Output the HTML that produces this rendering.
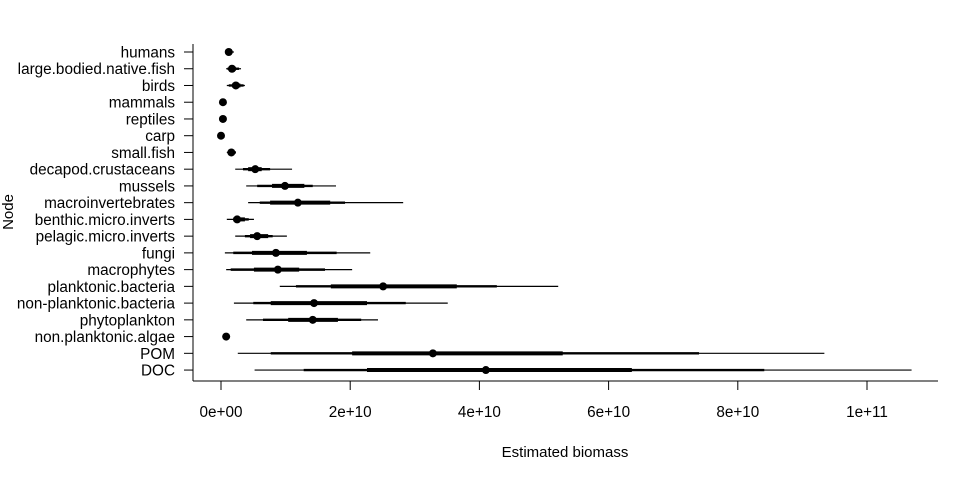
<!DOCTYPE html>
<html><head><meta charset="utf-8"><style>
body{margin:0;background:#fff;}
svg{display:block;font-family:"Liberation Sans",Arial,sans-serif;}
</style></head><body>
<svg id="chart" width="960" height="480" viewBox="0 0 960 480">
<g id="axes"></g>
<g id="marks"></g>
<text x="565" y="457" font-size="15" text-anchor="middle">Estimated biomass</text>
<text x="0" y="0" font-size="15" text-anchor="middle" transform="translate(13,212) rotate(-90)">Node</text>
</svg>
<script>
const nodes=["humans","large.bodied.native.fish","birds","mammals","reptiles","carp","small.fish","decapod.crustaceans","mussels","macroinvertebrates","benthic.micro.inverts","pelagic.micro.inverts","fungi","macrophytes","planktonic.bacteria","non-planktonic.bacteria","phytoplankton","non.planktonic.algae","POM","DOC"];
// values in units of 1e9
const lo95=[0.9,0.8,0.9,0.3,0.3,0,0.9,2.2,3.9,4.2,0.9,2.2,0.6,0.8,9.1,2.0,3.9,0.8,2.6,5.2];
const lo80=[1.1,1.0,1.2,0.3,0.3,0,1.0,3.4,5.6,6.0,1.9,3.7,1.9,1.5,11.6,5.0,6.5,0.8,7.7,12.8];
const lo50=[1.1,1.2,1.7,0.3,0.3,0,1.2,4.2,7.9,7.6,1.9,4.5,4.8,5.1,17.0,7.7,10.4,0.8,20.3,22.6];
const mid=[1.2,1.7,2.3,0.3,0.3,0,1.6,5.3,9.9,11.9,2.5,5.6,8.5,8.8,25.1,14.4,14.2,0.8,32.8,41.0];
const hi50=[1.6,2.3,3.0,0.3,0.3,0,2.0,6.3,12.9,16.9,3.7,7.3,13.3,12.1,36.5,22.6,18.1,0.8,52.9,63.6];
const hi80=[1.8,2.8,3.5,0.3,0.3,0,2.3,7.6,14.2,19.2,4.3,8.0,17.9,16.1,42.7,28.6,21.7,0.8,74.0,84.1];
const hi95=[2.0,3.1,3.7,0.3,0.3,0,2.3,11.0,17.8,28.2,5.1,10.2,23.1,20.3,52.2,35.1,24.3,0.8,93.4,106.9];
const ticks=[0,20,40,60,80,100];
const tickLabels=["0e+00","2e+10","4e+10","6e+10","8e+10","1e+11"];
const NS="http://www.w3.org/2000/svg";
const X=v=>221+v*6.46;
const Y=i=>52+i*16.74;
function mk(tag,attrs,parent){const e=document.createElementNS(NS,tag);for(const k in attrs)e.setAttribute(k,attrs[k]);parent.appendChild(e);return e;}
const ax=document.getElementById('axes'),mg=document.getElementById('marks');
const xl=mk('line',{x1:193,x2:938,y1:381,y2:381,stroke:'#000'},ax);


const yl=mk('line',{x1:193,x2:193,y1:44,y2:381,stroke:'#000'},ax);


ticks.forEach((t,i)=>{
 const tk=mk('line',{x1:X(t),x2:X(t),y1:381,y2:390,stroke:'#000'},ax);
 
 
 const tl=mk('text',{x:X(t),y:417,'font-size':15.3,'text-anchor':'middle'},ax);
 tl.textContent=tickLabels[i];
 
 
});
nodes.forEach((n,i)=>{
 const y=Y(i);
 const tk=mk('line',{x1:184,x2:193,y1:y,y2:y,stroke:'#000'},ax);
 
 
 const tl=mk('text',{x:175,y:y+5.5,'font-size':15.3,'text-anchor':'end'},ax);
 tl.textContent=n;
 
 
 const g=mk('g',{},mg);
 
 
 mk('line',{x1:X(lo95[i]),x2:X(hi95[i]),y1:y,y2:y,stroke:'#000','stroke-width':1.2},g);
 mk('line',{x1:X(lo80[i]),x2:X(hi80[i]),y1:y,y2:y,stroke:'#000','stroke-width':2.4},g);
 mk('line',{x1:X(lo50[i]),x2:X(hi50[i]),y1:y,y2:y,stroke:'#000','stroke-width':4},g);
 mk('circle',{cx:X(mid[i]),cy:y,r:4,fill:'#000'},g);
});
</script>
</body></html>
